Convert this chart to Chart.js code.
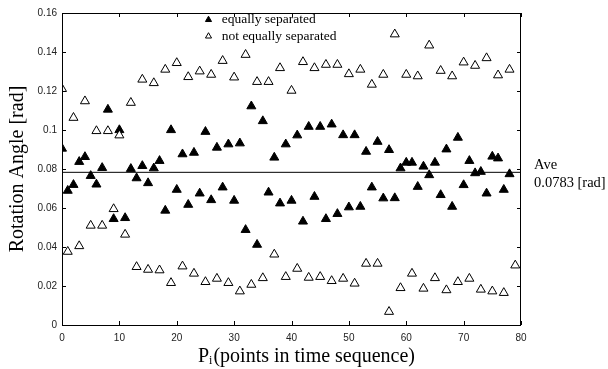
<!DOCTYPE html>
<html>
<head>
<meta charset="utf-8">
<script src="https://cdn.jsdelivr.net/npm/chart.js@4"></script>
<style>
  html, body { margin: 0; padding: 0; background: #fff; }
</style>
</head>
<body>
<canvas id="rotChart" width="608" height="369"></canvas>
<script>
// rotation angle per point (index = point number)
const equallySeparated = [
  0.0905, 0.0689, 0.0719, 0.0837, 0.0862, 0.0765, 0.0721, 0.0806, 0.1105, 0.0544,
  0.1000, 0.0549, 0.0801, 0.0753, 0.0816, 0.0728, 0.0804, 0.0842, 0.0587, 0.1000,
  0.0694, 0.0876, 0.0617, 0.0884, 0.0675, 0.0991, 0.0641, 0.0910, 0.0706, 0.0927,
  0.0638, 0.0932, 0.0488, 0.1122, 0.0412, 0.1046, 0.0680, 0.0859, 0.0624, 0.0927,
  0.0638, 0.0973, 0.0531, 0.1017, 0.0658, 0.1017, 0.0544, 0.1029, 0.0570, 0.0974,
  0.0604, 0.0974, 0.0607, 0.0889, 0.0706, 0.0940, 0.0650, 0.0898, 0.0651, 0.0804,
  0.0833, 0.0833, 0.0709, 0.0813, 0.0769, 0.0833, 0.0667, 0.0901, 0.0607, 0.0961,
  0.0718, 0.0842, 0.0779, 0.0786, 0.0675, 0.0864, 0.0855, 0.0694, 0.0774
];
const notEquallySeparated = [
  0.1211, 0.0376, 0.1063, 0.0405, 0.1148, 0.0510, 0.0995, 0.0510, 0.0995, 0.0595,
  0.0973, 0.0464, 0.1140, 0.0298, 0.1259, 0.0284, 0.1241, 0.0281, 0.1310, 0.0216,
  0.1344, 0.0301, 0.1272, 0.0264, 0.1301, 0.0221, 0.1284, 0.0238, 0.1355, 0.0216,
  0.1270, 0.0173, 0.1386, 0.0207, 0.1247, 0.0241, 0.1247, 0.0362, 0.1318, 0.0247,
  0.1202, 0.0289, 0.1349, 0.0243, 0.1318, 0.0247, 0.1335, 0.0226, 0.1335, 0.0238,
  0.1287, 0.0213, 0.1310, 0.0315, 0.1233, 0.0315, 0.1284, 0.0068, 0.1491, 0.0190,
  0.1284, 0.0264, 0.1276, 0.0187, 0.1434, 0.0241, 0.1304, 0.0179, 0.1276, 0.0221,
  0.1347, 0.0238, 0.1330, 0.0182, 0.1369, 0.0173, 0.1281, 0.0165, 0.1310, 0.0306
];
const aveValue = 0.0783;
const aveRange = [0, 80];
const xTickLabels = ["0", "10", "20", "30", "40", "50", "60", "70", "80"];
const yTickLabels = ["0", "0.02", "0.04", "0.06", "0.08", "0.1", "0.12", "0.14", "0.16"];

const serif = "'Liberation Serif', 'Times New Roman', serif";
const sans = "'Liberation Sans', Arial, sans-serif";

const toPoints = (arr) => arr.map((v, i) => ({ x: i, y: v }));

// inward ticks on all four sides, frame, x title and the "Ave" note
const frameAndNotes = {
  id: "frameAndNotes",
  afterLayout(chart) {
    const lg = chart.legend;
    const a = chart.chartArea;
    if (lg) {
      lg.left = a.left + 137;
      lg.top = a.top - 3;
    }
  },
  afterDatasetsDraw(chart) {
    const { ctx, chartArea: a, scales: { x, y } } = chart;
    const len = 4;
    ctx.save();
    ctx.strokeStyle = "#000";
    ctx.lineWidth = 1;
    ctx.strokeRect(a.left + 0.5, a.top + 0.5, a.right - a.left - 1, a.bottom - a.top);
    ctx.beginPath();
    x.ticks.forEach((t, i) => {
      const px = Math.round(x.getPixelForTick(i)) + 0.5;
      ctx.moveTo(px, a.bottom);
      ctx.lineTo(px, a.bottom - len);
      ctx.moveTo(px, a.top);
      ctx.lineTo(px, a.top + len);
    });
    y.ticks.forEach((t, i) => {
      const py = Math.round(y.getPixelForTick(i)) + 0.5;
      ctx.moveTo(a.left, py);
      ctx.lineTo(a.left + len, py);
      ctx.moveTo(a.right, py);
      ctx.lineTo(a.right - len, py);
    });
    ctx.stroke();

    // Ave note to the right of the plot
    const ay = y.getPixelForValue(aveValue);
    ctx.fillStyle = "#000";
    ctx.font = "14.5px " + serif;
    ctx.textAlign = "left";
    ctx.textBaseline = "alphabetic";
    ctx.fillText("Ave", a.right + 13, ay - 3);
    ctx.fillText(aveValue.toFixed(4) + " [rad]", a.right + 13, ay + 15);

    // x title with subscript i
    const big = "20px " + serif, small = "12px " + serif;
    const p1 = "P", p2 = "i", p3 = "(points in time sequence)";
    ctx.font = big;
    const w1 = ctx.measureText(p1).width, w3 = ctx.measureText(p3).width;
    ctx.font = small;
    const w2 = ctx.measureText(p2).width + 1;
    let tx = (a.left + a.right) / 2 + 15 - (w1 + w2 + w3) / 2;
    const base = 362;
    ctx.font = big;
    ctx.fillText(p1, tx, base);
    ctx.font = small;
    ctx.fillText(p2, tx + w1, base + 2);
    ctx.font = big;
    ctx.fillText(p3, tx + w1 + w2, base);
    ctx.restore();
  }
};

new Chart(document.getElementById("rotChart"), {
  type: "scatter",
  data: {
    datasets: [
      {
        label: "equally separated",
        data: toPoints(equallySeparated),
        pointStyle: "triangle",
        pointRadius: 5.2,
        pointBackgroundColor: "#000",
        pointBorderColor: "#000",
        pointBorderWidth: 1,
        order: 2,
      },
      {
        label: "not equally separated",
        data: toPoints(notEquallySeparated),
        pointStyle: "triangle",
        pointRadius: 5.2,
        pointBackgroundColor: "#fff",
        pointBorderColor: "#000",
        pointBorderWidth: 1,
        order: 1,
      },
      {
        type: "line",
        label: "Ave",
        data: aveRange.map((xv) => ({ x: xv, y: aveValue })),
        borderColor: "#000",
        borderWidth: 1,
        pointRadius: 0,
        order: 3,
      },
    ],
  },
  options: {
    responsive: false,
    animation: false,
    layout: { padding: { top: 13, right: 87, left: 0, bottom: 0 } },
    plugins: {
      tooltip: { enabled: false },
      legend: {
        position: "chartArea",
        align: "start",
        labels: {
          usePointStyle: true,
          boxWidth: 13,
          boxHeight: 5,
          padding: 3,
          color: "#000",
          font: { family: serif, size: 13.5 },
          filter: (item) => item.datasetIndex < 2,
          sort: (a, b) => a.datasetIndex - b.datasetIndex,
        },
      },
    },
    scales: {
      x: {
        type: "linear",
        min: 0,
        max: 80,
        afterFit: (s) => { s.height = 44; },
        grid: { display: false, drawTicks: false },
        border: { display: false },
        ticks: {
          stepSize: 10,
          padding: 7,
          color: "#222",
          font: { family: sans, size: 10 },
          callback: (v, i) => xTickLabels[i],
        },
        title: { display: false },
      },
      y: {
        min: 0,
        max: 0.16,
        afterFit: (s) => { s.width = 62; },
        grid: { display: false, drawTicks: false },
        border: { display: false },
        ticks: {
          stepSize: 0.02,
          padding: 5,
          color: "#222",
          font: { family: sans, size: 10 },
          callback: (v, i) => yTickLabels[i],
        },
        title: {
          display: true,
          text: "Rotation Angle [rad]",
          color: "#000",
          font: { family: serif, size: 20 },
          padding: { top: 6, bottom: 0 },
        },
      },
    },
  },
  plugins: [frameAndNotes],
});
</script>
</body>
</html>
